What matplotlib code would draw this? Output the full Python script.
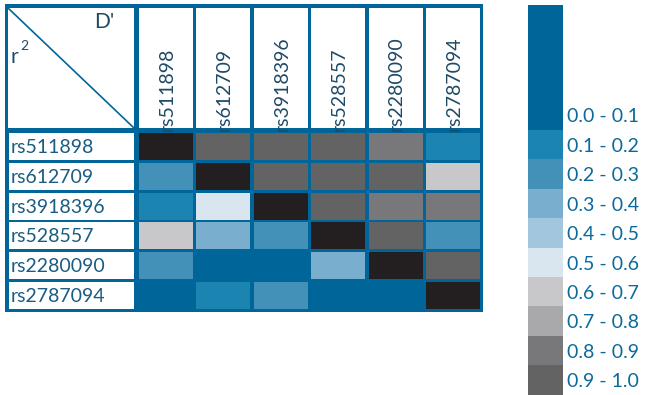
import matplotlib.pyplot as plt
import matplotlib.patches as patches

# ---- data -------------------------------------------------------------
snps = ["rs511898", "rs612709", "rs3918396", "rs528557", "rs2280090", "rs2787094"]

bin_labels = ["0.0 - 0.1", "0.1 - 0.2", "0.2 - 0.3", "0.3 - 0.4", "0.4 - 0.5",
              "0.5 - 0.6", "0.6 - 0.7", "0.7 - 0.8", "0.8 - 0.9", "0.9 - 1.0"]
bin_colors = ["#006699", "#1b84b0", "#4390b9", "#7aaecf", "#a3c6df",
              "#d9e6f0", "#c8c8ca", "#a9a9ac", "#78787b", "#636364"]

# bin index per cell: upper triangle = D', lower triangle = r^2, -1 = diagonal
ld_bins = [
    [-1, 9, 9, 9, 8, 1],
    [2, -1, 9, 9, 9, 6],
    [1, 5, -1, 9, 8, 8],
    [6, 3, 2, -1, 9, 2],
    [2, 0, 0, 3, -1, 9],
    [0, 1, 2, 0, 0, -1],
]

# ---- styling ----------------------------------------------------------
frame = "#006699"
diag_col = "#231f20"
label_col = "#1a5c82"
head_col = "#1f4a66"
legend_txt = "#0b6a9b"
plt.rcParams['font.family'] = ['Lato', 'DejaVu Sans']

fig = plt.figure(figsize=(6.45, 3.95), dpi=100)
ax = fig.add_axes([0, 0, 1, 1])
ax.set_xlim(0, 645)
ax.set_ylim(395, 0)
ax.axis("off")

# outer frame
ax.add_patch(patches.Rectangle((5, 4), 478, 308, facecolor=frame, edgecolor="none"))

# corner box with diagonal
ax.add_patch(patches.Rectangle((8, 8), 126, 120, facecolor="white", edgecolor="none"))
ax.plot([8, 134], [8, 128], color=frame, lw=1.2)
ax.text(114, 22, "D'", fontsize=15, color=head_col, ha="right", va="center")
ax.text(11, 57, "r", fontsize=15, color=head_col, ha="left", va="center")
ax.text(20, 46, "2", fontsize=10, color=head_col, ha="left", va="center")

col_x0 = 139
col_pitch = 57.4
col_w = 54
row_y0 = 133
row_pitch = 29.8
row_h = 27

n = len(snps)
for j, name in enumerate(snps):
    x = col_x0 + j * col_pitch
    ax.add_patch(patches.Rectangle((x, 8), col_w, 120, facecolor="white", edgecolor="none"))
    t = ax.text(x + col_w / 2 + 1, 131, name, rotation=90, fontsize=14, color=head_col,
                ha="left", va="center", rotation_mode="anchor")
    t.set_clip_path(patches.Rectangle((x, 8), col_w, 120, transform=ax.transData))

for i, name in enumerate(snps):
    y = row_y0 + i * row_pitch
    ax.add_patch(patches.Rectangle((9, y), 125, row_h, facecolor="white", edgecolor="none"))
    ax.text(11, y + row_h / 2 + 1, name, fontsize=14, color=label_col, ha="left", va="center")
    for j in range(n):
        b = ld_bins[i][j]
        c = diag_col if b < 0 else bin_colors[b]
        ax.add_patch(patches.Rectangle((col_x0 + j * col_pitch, y), col_w, row_h,
                                       facecolor=c, edgecolor="none"))

# legend
leg_x = 528
leg_w = 35
leg_pitch = 29.4
ax.add_patch(patches.Rectangle((leg_x, 5), leg_w, 125, facecolor=bin_colors[0], edgecolor="none"))
for k in range(1, len(bin_labels)):
    y = 130 + (k - 1) * leg_pitch
    ax.add_patch(patches.Rectangle((leg_x, y), leg_w, leg_pitch + 0.3,
                                   facecolor=bin_colors[k], edgecolor="none"))
for k, lab in enumerate(bin_labels):
    ax.text(567, 117 + k * leg_pitch, lab, fontsize=14, color=legend_txt,
            ha="left", va="center")

fig.savefig("out.png", dpi=100)
